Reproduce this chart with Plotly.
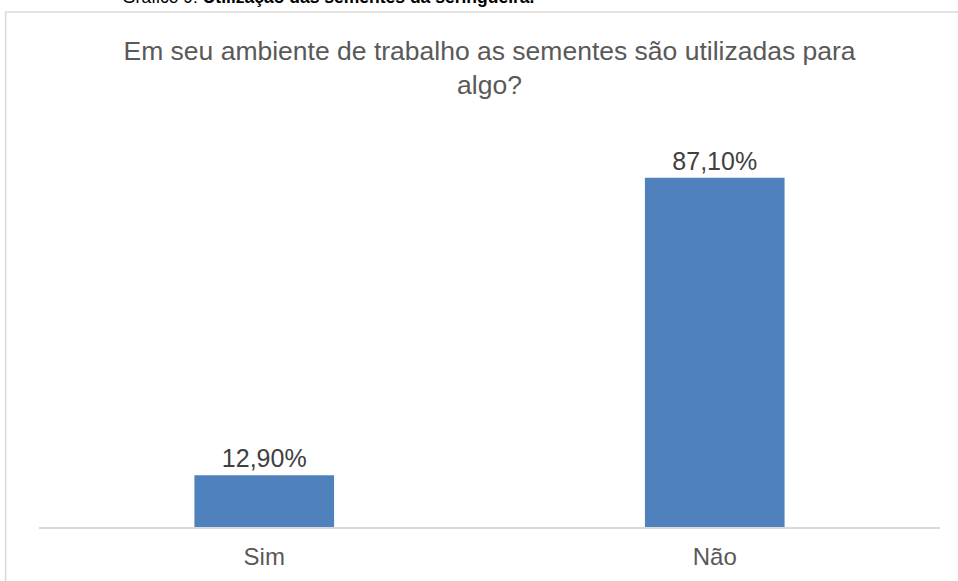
import plotly.graph_objects as go

categories = ["Sim", "Não"]
values = [12.9, 87.1]
labels = ["12,90%", "87,10%"]

title = "Em seu ambiente de trabalho as sementes são utilizadas para<br>algo?"
caption = "Gráfico 9: <b>Utilização das sementes da seringueira.</b>"

fig = go.Figure(
    go.Bar(
        x=categories,
        y=values,
        text=labels,
        textposition="outside",
        textfont=dict(size=25, color="#404040", family="Liberation Sans, Arial"),
        marker=dict(color="#4F81BD", line=dict(width=0)),
        width=0.31,
        cliponaxis=False,
    )
)

fig.update_layout(
    width=958,
    height=581,
    margin=dict(l=39, r=18, t=126, b=54),
    plot_bgcolor="white",
    paper_bgcolor="white",
    showlegend=False,
    font=dict(family="Liberation Sans, Arial", color="#595959"),
    title=dict(
        text=title,
        x=0.511,
        xanchor="center",
        y=0.897,
        yanchor="top",
        font=dict(size=26.5, color="#595959"),
    ),
)

fig.update_xaxes(
    showline=True,
    linecolor="#D9D9D9",
    linewidth=2,
    tickfont=dict(size=24, color="#595959"),
    ticks="",
    ticklabelstandoff=7,
)
fig.update_yaxes(
    range=[0, 100],
    visible=False,
)

# chart frame
fig.add_shape(
    type="rect",
    xref="paper",
    yref="paper",
    x0=-0.037,
    x1=1.2,
    y0=-0.3,
    y1=1.284,
    line=dict(color="#D9D9D9", width=1.5),
    fillcolor="rgba(0,0,0,0)",
    layer="below",
)

# caption cut off at the top of the page
fig.add_annotation(
    text=caption,
    xref="paper",
    yref="paper",
    x=0.09,
    xanchor="left",
    y=1.322,
    yanchor="middle",
    showarrow=False,
    font=dict(size=17.5, color="#000000", family="Liberation Sans, Arial"),
)

fig.write_html(
    "out.html",
    config={"displayModeBar": False},
    post_script="document.body.style.margin='0';",
)
